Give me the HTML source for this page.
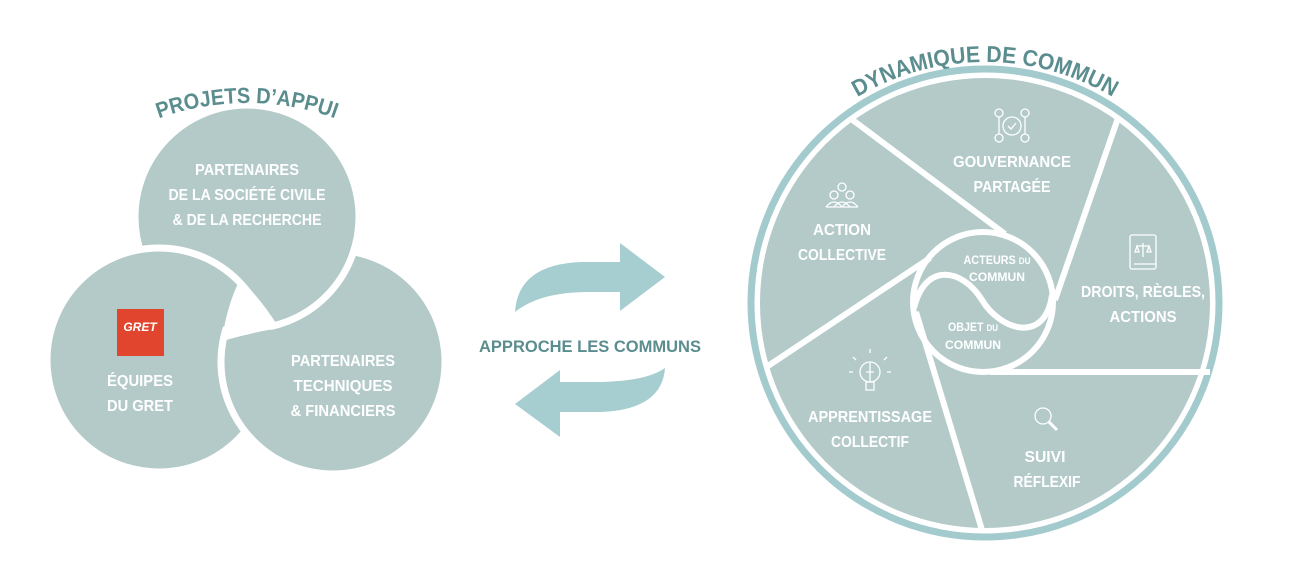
<!DOCTYPE html>
<html><head><meta charset="utf-8"><style>
html,body{margin:0;padding:0;background:#fff;}
svg{display:block;}
text{font-family:"Liberation Sans",sans-serif;font-weight:bold;}
.w{fill:#fff;font-size:16px;text-anchor:middle;}
.s{fill:#fff;font-size:12px;text-anchor:middle;}
</style></head><body>
<svg width="1299" height="570" viewBox="0 0 1299 570" xmlns="http://www.w3.org/2000/svg">
<defs>
<mask id="ml" maskUnits="userSpaceOnUse" x="0" y="0" width="1299" height="570">
<rect x="0" y="0" width="1299" height="570" fill="#000"/>
<circle cx="159" cy="360" r="116" fill="#fff"/>
<circle cx="247" cy="217" r="112" fill="#000"/>
</mask>
<clipPath id="c1"><circle cx="159" cy="360" r="112"/></clipPath>
<clipPath id="c2" clip-path="url(#c1)"><circle cx="333" cy="362" r="112"/></clipPath>
<path id="a1" d="M-13,363 A260,260 0 0 1 507,363"/>
<path id="a2" d="M735,312 A250,250 0 0 1 1235,312"/>
</defs>
<circle cx="333" cy="362" r="112" fill="#b3cac9" stroke="#fff" stroke-width="7"/>
<circle cx="247" cy="217" r="112" fill="#b3cac9" stroke="#fff" stroke-width="7"/>
<circle cx="159" cy="360" r="112" fill="#b3cac9" stroke="#fff" stroke-width="7"/>
<g mask="url(#ml)"><circle cx="333" cy="362" r="112" fill="#b3cac9" stroke="#fff" stroke-width="7"/></g>
<g clip-path="url(#c2)"><circle cx="247" cy="217" r="115" fill="#fff"/></g>
<path d="M240,279 Q262,300 279,328 Q250,333 222,341 Q226,308 240,279 Z" fill="#fff"/>
<text font-size="22" fill="#5b8d8f" textLength="180" lengthAdjust="spacingAndGlyphs"><textPath href="#a1" startOffset="50%" text-anchor="middle">PROJETS D’APPUI</textPath></text>
<text class="w" x="247" y="175" textLength="104" lengthAdjust="spacingAndGlyphs">PARTENAIRES</text>
<text class="w" x="247" y="200" textLength="157" lengthAdjust="spacingAndGlyphs">DE LA SOCIÉTÉ CIVILE</text>
<text class="w" x="247" y="225" textLength="149" lengthAdjust="spacingAndGlyphs">&amp; DE LA RECHERCHE</text>
<rect x="117" y="309" width="47" height="47" fill="#e2452e"/>
<text x="140" y="331" font-size="12" fill="#fff" text-anchor="middle" font-style="italic" font-weight="normal">GRET</text>
<text class="w" x="140" y="386" textLength="66" lengthAdjust="spacingAndGlyphs">ÉQUIPES</text>
<text class="w" x="140" y="411" textLength="66" lengthAdjust="spacingAndGlyphs">DU GRET</text>
<text class="w" x="343" y="366" textLength="104" lengthAdjust="spacingAndGlyphs">PARTENAIRES</text>
<text class="w" x="343" y="391" textLength="99" lengthAdjust="spacingAndGlyphs">TECHNIQUES</text>
<text class="w" x="343" y="416" textLength="105" lengthAdjust="spacingAndGlyphs">&amp; FINANCIERS</text>
<path d="M515,312 Q518,264 582,262 L620,262 L620,243 L665,277 L620,311 L620,292 L588,292 Q540,292 515,312 Z" fill="#a6cdd0"/>
<path d="M665,368 Q662,410 600,412 L560,412 L560,437 L515,404 L560,370 L560,382 L595,382 Q645,382 665,368 Z" fill="#a6cdd0"/>
<text x="590" y="352" font-size="17" fill="#5b8d8f" text-anchor="middle" textLength="222" lengthAdjust="spacingAndGlyphs">APPROCHE LES COMMUNS</text>
<text font-size="23" fill="#5b8d8f" textLength="268" lengthAdjust="spacingAndGlyphs"><textPath href="#a2" startOffset="50%" text-anchor="middle">DYNAMIQUE DE COMMUN</textPath></text>
<circle cx="985" cy="303" r="234" fill="#fff" stroke="#a3cacd" stroke-width="7"/>
<circle cx="985" cy="303" r="225" fill="#b3cac9"/>
<g stroke="#fff" stroke-width="6" fill="none">
<line x1="850" y1="118" x2="1005" y2="234"/>
<line x1="1118" y1="118" x2="1055" y2="300"/>
<line x1="1210" y1="372" x2="990" y2="372"/>
<line x1="982" y1="530" x2="916" y2="312"/>
<line x1="765" y1="368" x2="930" y2="258"/>
<circle cx="983" cy="302" r="70"/>
<path d="M914,308 C925,262 962,268 982,300 C1000,330 1045,345 1052,295"/>
</g>
<g stroke="#fff" stroke-width="1.3" fill="none">
<circle cx="1012" cy="126" r="9"/><path d="M1008,126 l3,3 l5,-6"/>
<circle cx="999" cy="113" r="4"/><circle cx="1025" cy="113" r="4"/><circle cx="999" cy="138" r="4"/><circle cx="1025" cy="138" r="4"/>
<line x1="999" y1="117" x2="999" y2="134"/><line x1="1025" y1="117" x2="1025" y2="134"/>
<circle cx="842" cy="187" r="4"/><circle cx="834" cy="195" r="4"/><circle cx="850" cy="195" r="4"/>
<path d="M826,207 q8,-10 16,0 M834,207 q8,-10 16,0 M842,207 q8,-10 16,0 M826,207 h32"/>
<rect x="1130" y="235" width="26" height="34" rx="2"/><line x1="1134" y1="264" x2="1156" y2="264"/>
<path d="M1143,243 v14 M1137,246 h12 M1135,252 l2,-6 l2,6 z M1147,252 l2,-6 l2,6 z"/>
<circle cx="870" cy="372" r="10"/><path d="M866,382 h8 v8 h-8 z M866,372 h8 M870,362 v20"/>
<path d="M870,353 v-4 M856,360 l-3,-3 M884,360 l3,-3 M853,372 h-4 M887,372 h4"/>
<circle cx="1043" cy="416" r="8"/><line x1="1049" y1="422" x2="1057" y2="430" stroke-width="3"/>
</g>
<text class="w" x="1012" y="167" textLength="118" lengthAdjust="spacingAndGlyphs">GOUVERNANCE</text>
<text class="w" x="1012" y="192" textLength="77" lengthAdjust="spacingAndGlyphs">PARTAGÉE</text>
<text class="w" x="842" y="235" textLength="58" lengthAdjust="spacingAndGlyphs">ACTION</text>
<text class="w" x="842" y="260" textLength="88" lengthAdjust="spacingAndGlyphs">COLLECTIVE</text>
<text class="w" x="1143" y="297" textLength="124" lengthAdjust="spacingAndGlyphs">DROITS, RÈGLES,</text>
<text class="w" x="1143" y="322" textLength="67" lengthAdjust="spacingAndGlyphs">ACTIONS</text>
<text class="w" x="870" y="422" textLength="124" lengthAdjust="spacingAndGlyphs">APPRENTISSAGE</text>
<text class="w" x="870" y="447" textLength="78" lengthAdjust="spacingAndGlyphs">COLLECTIF</text>
<text class="w" x="1045" y="462" textLength="41" lengthAdjust="spacingAndGlyphs">SUIVI</text>
<text class="w" x="1047" y="487" textLength="67" lengthAdjust="spacingAndGlyphs">RÉFLEXIF</text>
<text class="s" x="997" y="264" textLength="67" lengthAdjust="spacingAndGlyphs">ACTEURS <tspan font-size="9">DU</tspan></text>
<text class="s" x="997" y="281" textLength="56" lengthAdjust="spacingAndGlyphs">COMMUN</text>
<text class="s" x="973" y="331" textLength="50" lengthAdjust="spacingAndGlyphs">OBJET <tspan font-size="9">DU</tspan></text>
<text class="s" x="973" y="349" textLength="56" lengthAdjust="spacingAndGlyphs">COMMUN</text>
</svg>
</body></html>
